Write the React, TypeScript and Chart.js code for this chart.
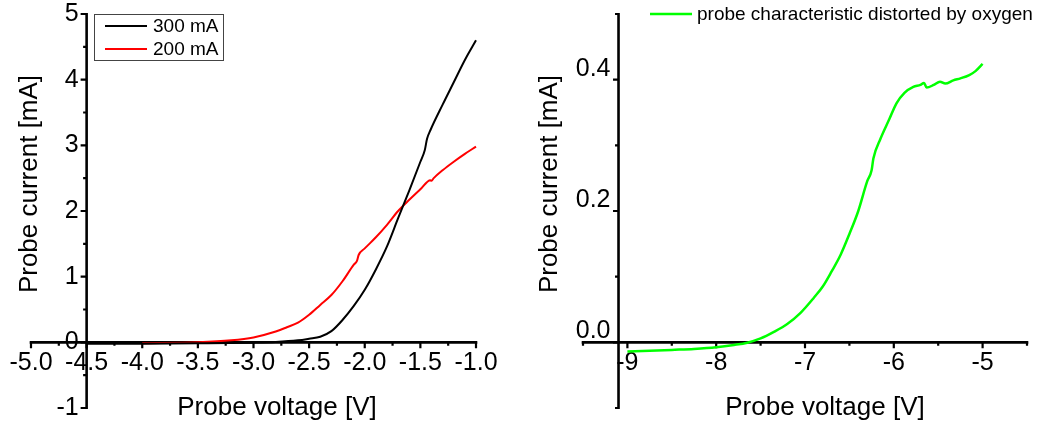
import React, { useEffect, useRef } from 'react';
import { Chart, registerables } from 'chart.js';

Chart.register(...registerables);

const FONT = '"Liberation Sans", Arial, Helvetica, sans-serif';

// ---- Left panel data (probe characteristics at two discharge currents) ----
const voltage300 = [-4.5, -4.0, -3.5, -3.0, -2.8, -2.6, -2.5, -2.4, -2.3, -2.2, -2.1, -2.0, -1.9, -1.8, -1.7, -1.6, -1.5, -1.46, -1.44, -1.41, -1.3, -1.2, -1.1, -1.0];
const current300 = [-0.02, -0.02, -0.015, -0.005, 0.005, 0.03, 0.055, 0.085, 0.17, 0.34, 0.55, 0.8, 1.11, 1.46, 1.89, 2.31, 2.75, 2.93, 3.1, 3.23, 3.62, 3.96, 4.3, 4.6];
const voltage200 = [-4.0, -3.5, -3.2, -3.0, -2.8, -2.7, -2.6, -2.5, -2.4, -2.3, -2.2, -2.1, -2.07, -2.055, -2.0, -1.9, -1.8, -1.7, -1.6, -1.5, -1.41, -1.4, -1.38, -1.3, -1.2, -1.1, -1.0];
const current200 = [-0.015, 0.0, 0.03, 0.075, 0.165, 0.23, 0.3, 0.42, 0.57, 0.72, 0.93, 1.18, 1.24, 1.33, 1.43, 1.6, 1.79, 2.0, 2.17, 2.33, 2.47, 2.46, 2.5, 2.62, 2.75, 2.87, 2.98];

// ---- Right panel data (characteristic distorted by oxygen) ----
const voltageO2 = [-9.0, -8.75, -8.5, -8.25, -8.0, -7.8, -7.65, -7.5, -7.35, -7.2, -7.05, -6.9, -6.8, -6.7, -6.6, -6.5, -6.4, -6.3, -6.25, -6.23, -6.15, -6.05, -5.97, -5.88, -5.78, -5.7, -5.66, -5.63, -5.55, -5.48, -5.42, -5.33, -5.25, -5.15, -5.08, -5.0];
const currentO2 = [-0.014, -0.013, -0.0115, -0.01, -0.0075, -0.004, -0.0005, 0.006, 0.016, 0.028, 0.045, 0.068, 0.085, 0.108, 0.133, 0.165, 0.2, 0.245, 0.262, 0.28, 0.31, 0.34, 0.364, 0.38, 0.389, 0.392, 0.395, 0.388, 0.392, 0.397, 0.394, 0.399, 0.402, 0.407, 0.413, 0.424];

// ---- Tick values ----
const leftXMajor = [-5.0, -4.5, -4.0, -3.5, -3.0, -2.5, -2.0, -1.5, -1.0];
const leftXMinor = [-4.75, -4.25, -3.75, -3.25, -2.75, -2.25, -1.75, -1.25];
const leftYMajor = [-1, 0, 1, 2, 3, 4, 5];
const leftYMinor = [-0.5, 0.5, 1.5, 2.5, 3.5, 4.5];
const rightXMajor = [-9, -8, -7, -6, -5];
const rightXMinor = [-9.5, -8.5, -7.5, -6.5, -5.5, -4.5];
const rightYMajor = [0.0, 0.2, 0.4];
const rightYMinor = [-0.1, 0.1, 0.3, 0.5];

const seriesLabels = ['300 mA', '200 mA', 'probe characteristic distorted by oxygen'];
const axisTitleX = 'Probe voltage [V]';
const axisTitleY = 'Probe current [mA]';

type AxisCfg = {
  xAt: number;
  yAt: number;
  xMajor: number[];
  xMinor: number[];
  xDigits: number;
  yMajor: number[];
  yMinor: number[];
  yDigits: number;
  yMajorLen: number;
  yLabelShift: number;
  xTitleX: number;
  legend: 'box' | 'plain';
};

function makeAxesPlugin(cfg: AxisCfg) {
  return {
    id: 'crossAxes',
    beforeDatasetsDraw(chart: any) {
      const ctx = chart.ctx as CanvasRenderingContext2D;
      const xs = chart.scales.x;
      const ys = chart.scales.y;
      const ax = xs.getPixelForValue(cfg.yAt);
      const ay = ys.getPixelForValue(cfg.xAt);
      ctx.save();
      ctx.fillStyle = '#000';
      // tick labels
      ctx.font = `25px ${FONT}`;
      ctx.textAlign = 'center';
      ctx.textBaseline = 'middle';
      cfg.xMajor.forEach((v) => {
        ctx.fillText(v.toFixed(cfg.xDigits), xs.getPixelForValue(v), ay + 21);
      });
      ctx.textAlign = 'right';
      cfg.yMajor.forEach((v) => {
        ctx.fillText(v.toFixed(cfg.yDigits), ax - 8, ys.getPixelForValue(v) - cfg.yLabelShift);
      });
      // axis titles
      ctx.font = `26px ${FONT}`;
      ctx.textAlign = 'center';
      ctx.fillText(axisTitleX, cfg.xTitleX, 408);
      ctx.save();
      ctx.translate(30, 184);
      ctx.rotate(-Math.PI / 2);
      ctx.fillText(axisTitleY, 0, 0);
      ctx.restore();
      // axis lines
      ctx.strokeStyle = '#000';
      ctx.lineWidth = 2.6;
      ctx.lineCap = 'butt';
      ctx.beginPath();
      ctx.moveTo(xs.left - 1.3, ay);
      ctx.lineTo(xs.right + 1.3, ay);
      ctx.moveTo(ax, ys.top - 1);
      ctx.lineTo(ax, ys.bottom + 1);
      ctx.stroke();
      // ticks
      ctx.lineWidth = 2.2;
      ctx.beginPath();
      cfg.xMajor.forEach((v) => {
        const p = xs.getPixelForValue(v);
        ctx.moveTo(p, ay);
        ctx.lineTo(p, ay + 6);
      });
      cfg.xMinor.forEach((v) => {
        const p = xs.getPixelForValue(v);
        ctx.moveTo(p, ay);
        ctx.lineTo(p, ay + 3.5);
      });
      cfg.yMajor.forEach((v) => {
        const p = ys.getPixelForValue(v);
        ctx.moveTo(ax, p);
        ctx.lineTo(ax - cfg.yMajorLen, p);
      });
      cfg.yMinor.forEach((v) => {
        const p = ys.getPixelForValue(v);
        ctx.moveTo(ax, p);
        ctx.lineTo(ax - 3.5, p);
      });
      ctx.stroke();
      ctx.restore();
    },
    afterDatasetsDraw(chart: any) {
      const ctx = chart.ctx as CanvasRenderingContext2D;
      const sets = chart.data.datasets;
      ctx.save();
      ctx.font = `19px ${FONT}`;
      ctx.textAlign = 'left';
      ctx.textBaseline = 'middle';
      if (cfg.legend === 'box') {
        ctx.strokeStyle = '#444';
        ctx.lineWidth = 1;
        ctx.strokeRect(94.5, 14.5, 129, 46);
        sets.forEach((ds: any, i: number) => {
          const y = 26 + i * 23;
          ctx.strokeStyle = ds.borderColor;
          ctx.lineWidth = 2;
          ctx.beginPath();
          ctx.moveTo(105, y);
          ctx.lineTo(147, y);
          ctx.stroke();
          ctx.fillStyle = '#000';
          ctx.fillText(ds.label, 153, y + 1);
        });
      } else {
        sets.forEach((ds: any) => {
          const y = 14;
          ctx.strokeStyle = ds.borderColor;
          ctx.lineWidth = 2.5;
          ctx.beginPath();
          ctx.moveTo(130, y);
          ctx.lineTo(172, y);
          ctx.stroke();
          ctx.fillStyle = '#000';
          ctx.fillText(ds.label, 177, y + 1);
        });
      }
      ctx.restore();
    },
  };
}

function toPoints(xs: number[], ys: number[]) {
  return xs.map((x, i) => ({ x, y: ys[i] }));
}

function baseOptions(xMin: number, xMax: number, yMin: number, yMax: number, padding: any) {
  return {
    responsive: false,
    animation: false as const,
    events: [] as any[],
    layout: { padding },
    plugins: { legend: { display: false }, tooltip: { enabled: false }, title: { display: false } },
    elements: { point: { radius: 0 }, line: { cubicInterpolationMode: 'monotone' as const } },
    scales: {
      x: { type: 'linear' as const, min: xMin, max: xMax, display: false },
      y: { type: 'linear' as const, min: yMin, max: yMax, display: false },
    },
  };
}

export default function App() {
  const leftRef = useRef<HTMLCanvasElement>(null);
  const rightRef = useRef<HTMLCanvasElement>(null);

  useEffect(() => {
    const left = new Chart(leftRef.current as HTMLCanvasElement, {
      type: 'line',
      data: {
        datasets: [
          { label: seriesLabels[0], data: toPoints(voltage300, current300), borderColor: '#000000', borderWidth: 2, clip: false as any },
          { label: seriesLabels[1], data: toPoints(voltage200, current200), borderColor: '#ff0000', borderWidth: 2, clip: false as any },
        ],
      },
      options: baseOptions(-5, -1, -1, 5, { left: 31, right: 44, top: 14, bottom: 19 }) as any,
      plugins: [
        makeAxesPlugin({
          xAt: 0, yAt: -4.5,
          xMajor: leftXMajor, xMinor: leftXMinor, xDigits: 1,
          yMajor: leftYMajor, yMinor: leftYMinor, yDigits: 0,
          yMajorLen: 6, yLabelShift: 0, xTitleX: 277, legend: 'box',
        }),
      ],
    });
    const right = new Chart(rightRef.current as HTMLCanvasElement, {
      type: 'line',
      data: {
        datasets: [
          { label: seriesLabels[2], data: toPoints(voltageO2, currentO2), borderColor: '#00ff00', borderWidth: 2.5, clip: false as any },
        ],
      },
      options: baseOptions(-9.5, -4.5, -0.1, 0.5, { left: 63, right: 17, top: 14, bottom: 19 }) as any,
      plugins: [
        makeAxesPlugin({
          xAt: 0, yAt: -9.1,
          xMajor: rightXMajor, xMinor: rightXMinor, xDigits: 0,
          yMajor: rightYMajor, yMinor: rightYMinor, yDigits: 1,
          yMajorLen: 5.5, yLabelShift: 11, xTitleX: 305, legend: 'plain',
        }),
      ],
    });
    return () => {
      left.destroy();
      right.destroy();
    };
  }, []);

  return (
    <div style={{ position: 'absolute', left: 0, top: 0, width: 1044, height: 427, background: '#fff', overflow: 'hidden' }}>
      <canvas ref={leftRef} width={520} height={427} style={{ position: 'absolute', left: 0, top: 0, width: 520, height: 427 }} />
      <canvas ref={rightRef} width={524} height={427} style={{ position: 'absolute', left: 520, top: 0, width: 524, height: 427 }} />
    </div>
  );
}
